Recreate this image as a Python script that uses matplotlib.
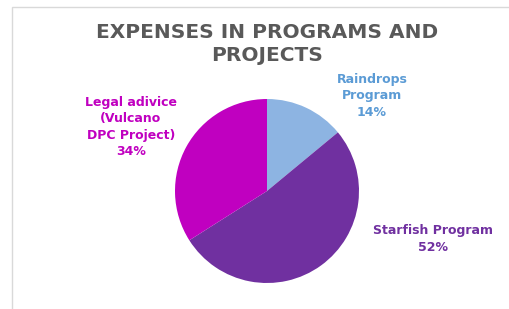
import matplotlib.pyplot as plt
from matplotlib.patches import Rectangle

# data
labels = ["Raindrops\nProgram", "Starfish Program", "Legal adivice\n(Vulcano\nDPC Project)"]
shares = [14, 52, 34]
colors = ["#8DB4E2", "#7030A0", "#C000C0"]
label_colors = ["#5B9BD5", "#7030A0", "#C000C0"]
# label positions in figure pixels (x, y from top)
label_pos = [(372, 96), (433, 239), (131, 127)]

W, H = 510, 309
fig = plt.figure(figsize=(W / 100, H / 100), dpi=100)
fig.patch.set_facecolor("white")

# chart frame (partially cut off at right and bottom)
fig.patches.append(Rectangle((12 / W, -0.1), 1.2, (H - 7) / H + 0.1,
                             transform=fig.transFigure, fill=False,
                             edgecolor="#D9D9D9", linewidth=1.0))

# pie
cx, cy, r = 267, 191, 92
ax = fig.add_axes([(cx - r) / W, (H - cy - r) / H, 2 * r / W, 2 * r / H])
ax.pie(shares, colors=colors, startangle=90, counterclock=False,
       wedgeprops=dict(linewidth=0))
ax.set_aspect("auto")
ax.set_xlim(-1, 1)
ax.set_ylim(-1, 1)
ax.axis("off")

fig.text(267 / W, 1 - 44 / H, "EXPENSES IN PROGRAMS AND\nPROJECTS",
         ha="center", va="center", fontsize=14.5, fontweight="bold",
         color="#595959", linespacing=1.25)

for lab, s, c, (x, y) in zip(labels, shares, label_colors, label_pos):
    fig.text(x / W, 1 - y / H, f"{lab}\n{s}%", ha="center", va="center",
             fontsize=9, fontweight="bold", color=c, linespacing=1.32)

fig.savefig("out.png", dpi=100)
